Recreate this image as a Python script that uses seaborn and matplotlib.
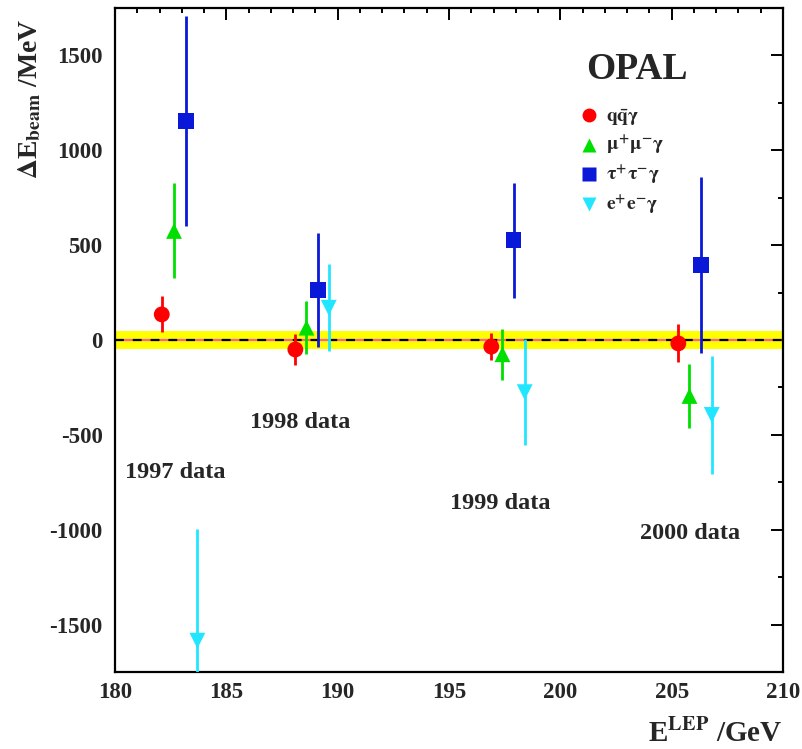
import numpy as np
import pandas as pd
import seaborn as sns
import matplotlib as mpl
from matplotlib import pyplot as plt
from matplotlib.lines import Line2D
from matplotlib.ticker import MultipleLocator

# values
channels = ["qqg", "mmg", "ttg", "eeg"]
labels = [r"$\mathbf{q\bar{q}}\gamma$", r"$\mu^{+}\mu^{-}\gamma$",
          r"$\tau^{+}\tau^{-}\gamma$", r"$\mathbf{e^{+}e^{-}}\gamma$"]

qqg_energy = [182.1, 188.1, 196.9, 205.3]
qqg_delta = [135, -50, -35, -18]
qqg_err = [95, 80, 72, 100]

mmg_energy = [182.65, 188.6, 197.4, 205.8]
mmg_delta = [575, 65, -75, -295]
mmg_err = [250, 138, 135, 170]

ttg_energy = [183.2, 189.1, 197.9, 206.3]
ttg_delta = [1155, 263, 525, 395]
ttg_err = [555, 300, 303, 463]

eeg_energy = [183.7, 189.6, 198.4, 206.8]
eeg_delta = [-1585, 170, -275, -395]
eeg_err = [590, 230, 280, 310]

year_labels = ["1997 data", "1998 data", "1999 data", "2000 data"]
year_x = [180.45, 186.05, 195.05, 203.6]
year_y = [-700, -437, -863, -1021]

band_half_width = 47

df = pd.DataFrame({
    "energy": qqg_energy + mmg_energy + ttg_energy + eeg_energy,
    "delta": qqg_delta + mmg_delta + ttg_delta + eeg_delta,
    "err": qqg_err + mmg_err + ttg_err + eeg_err,
    "channel": sum([[c] * 4 for c in channels], []),
})

sns.set_theme(style="white")
mpl.rcParams["font.family"] = ["Liberation Serif", "DejaVu Serif"]
mpl.rcParams["font.weight"] = "bold"
mpl.rcParams["mathtext.fontset"] = "stix"
mpl.rcParams["mathtext.default"] = "bf"
mpl.rcParams["axes.unicode_minus"] = False

colors = {"qqg": "#ff0000", "mmg": "#00e000", "ttg": "#0a18d8", "eeg": "#22e6ff"}
markers = {"qqg": "o", "mmg": "^", "ttg": "s", "eeg": "v"}

fig = plt.figure(figsize=(8.02, 7.49), dpi=100)
ax = fig.add_axes([0.1434, 0.1028, 0.8329, 0.8865])

ax.axhspan(-band_half_width, band_half_width, color="#ffff00", lw=0, zorder=1)
ax.axhline(0, color="#ff5fa0", lw=1.6, zorder=2)
ax.axhline(0, color="black", lw=1.6, ls=(0, (4, 4)), zorder=2)

for ch in channels:
    sub = df[df["channel"] == ch]
    ax.errorbar(sub["energy"], sub["delta"], yerr=sub["err"], fmt="none",
                ecolor=colors[ch], elinewidth=2, capsize=0, zorder=3)

sns.scatterplot(data=df, x="energy", y="delta", hue="channel", style="channel",
                palette=colors, markers=markers, s=130, edgecolor="none",
                legend=False, ax=ax, zorder=4)

ax.set_xlim(180, 210)
ax.set_ylim(-1750, 1750)
ax.xaxis.set_major_locator(MultipleLocator(5))
ax.xaxis.set_minor_locator(MultipleLocator(1))
ax.yaxis.set_major_locator(MultipleLocator(500))
ax.yaxis.set_minor_locator(MultipleLocator(250))
ax.tick_params(which="both", direction="in", top=True, right=True, width=1.4,
               labelsize=16.5, color="black")
ax.tick_params(which="major", length=8.6)
ax.tick_params(which="minor", length=3.8)
ax.tick_params(axis="x", pad=7)
ax.tick_params(axis="y", pad=9)
for lab in ax.get_xticklabels() + ax.get_yticklabels():
    lab.set_fontweight("bold")
for spine in ax.spines.values():
    spine.set_linewidth(1.6)
    spine.set_color("black")

ax.set_xlabel(r"E$^{\rm LEP}$ /GeV", fontsize=21, fontweight="bold")
ax.xaxis.set_label_coords(1.0, -0.07)
ax.xaxis.label.set_horizontalalignment("right")
ax.set_ylabel(r"$\Delta$E$_{\rm beam}$ /MeV", fontsize=20, fontweight="bold")
ax.yaxis.set_label_coords(-0.108, 0.863)

for txt, xx, yy in zip(year_labels, year_x, year_y):
    ax.text(xx, yy, txt, fontsize=17.5, fontweight="bold", ha="left", va="center")

ax.text(0.782, 0.907, "OPAL", transform=ax.transAxes, fontsize=27,
        fontweight="bold", ha="center", va="center")

handles = [Line2D([], [], marker=markers[c], color=colors[c], ls="none",
                  markersize=10, markeredgecolor="none") for c in channels]
ax.legend(handles, labels, loc="upper left", bbox_to_anchor=(0.68, 0.863),
          frameon=False, fontsize=14, handletextpad=0.3, labelspacing=0.35,
          handlelength=1.2, borderaxespad=0)

fig.savefig("out.png", dpi=100)
